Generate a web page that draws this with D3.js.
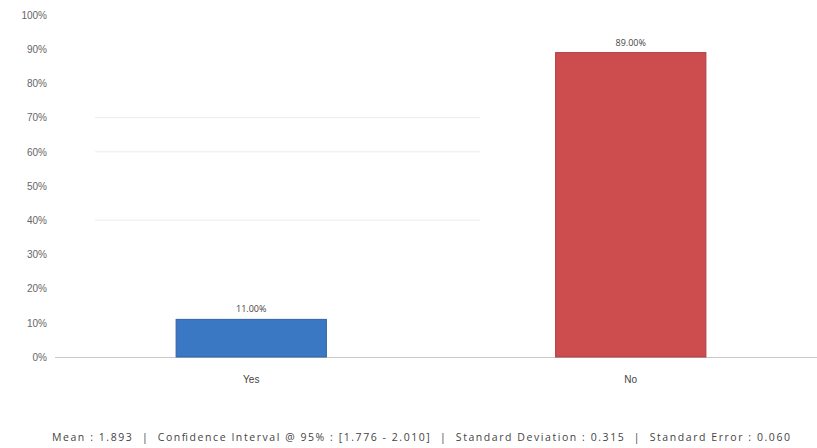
<!DOCTYPE html>
<html><head><meta charset="utf-8">
<script src="https://cdn.jsdelivr.net/npm/d3@7/dist/d3.min.js"></script>
<style>body{margin:0;background:#fff;} svg{display:block;font-family:"Segoe UI","Open Sans","DejaVu Sans",sans-serif;}</style>
</head><body>
<script>
const categories = ["Yes", "No"];
const values = [11.0, 89.0];
const valueLabels = ["11.00%", "89.00%"];
const barColors = ["#3b78c4", "#cd4c4d"];
const yTicks = [0,10,20,30,40,50,60,70,80,90,100];
const faintGrid = [40,60,70];
const footer = "Mean : 1.893  |  Confidence Interval @ 95% : [1.776 - 2.010]  |  Standard Deviation : 0.315  |  Standard Error : 0.060";

const W = 817, H = 448;
const svg = d3.select("body").append("svg").attr("width", W).attr("height", H);
const y = d3.scaleLinear().domain([0,100]).range([357, 15]);
const x = d3.scaleBand().domain(categories).range([61.5, 820.5]).paddingInner(0.604).paddingOuter(0.302);

svg.append("g").selectAll("line").data(faintGrid).join("line")
  .attr("x1", 95).attr("x2", 480).attr("y1", d=>y(d)).attr("y2", d=>y(d))
  .attr("stroke", "#ececec").attr("stroke-width", 1);

const ya = svg.append("g").attr("transform", "translate(47,0)")
  .call(d3.axisLeft(y).tickValues(yTicks).tickFormat(d=>d+"%").tickSize(0).tickPadding(0));
ya.select(".domain").remove();
ya.selectAll("text").attr("fill", "#666").style("font-size", "10px");

svg.append("line").attr("x1", 55).attr("x2", 817).attr("y1", y(0)+0.5).attr("y2", y(0)+0.5)
  .attr("stroke", "#c8c8c8").attr("stroke-width", 1);

svg.append("g").selectAll("rect").data(categories).join("rect")
  .attr("x", d=>x(d)).attr("width", x.bandwidth())
  .attr("y", (d,i)=>y(values[i])).attr("height", (d,i)=>y(0)-y(values[i]))
  .attr("fill", (d,i)=>barColors[i])
  .attr("stroke", (d,i)=>d3.color(barColors[i]).darker(0.5)).attr("stroke-width", 1);

svg.append("g").selectAll("text").data(categories).join("text")
  .attr("x", d=>x(d)+x.bandwidth()/2).attr("y", (d,i)=>y(values[i])-7)
  .attr("text-anchor", "middle").attr("fill", "#444").style("font-size", "9px")
  .text((d,i)=>valueLabels[i]);

const xa = svg.append("g").attr("transform", `translate(0,${y(0)})`)
  .call(d3.axisBottom(x).tickSize(0).tickPadding(19));
xa.select(".domain").remove();
xa.selectAll("text").attr("fill", "#444").style("font-size", "10px");

svg.append("text").attr("x", 52).attr("y", 441)
  .attr("textLength", 738).attr("lengthAdjust", "spacing")
  .attr("fill", "#444").style("font-size", "10.5px").attr("xml:space", "preserve").text(footer);
</script>
</body></html>
